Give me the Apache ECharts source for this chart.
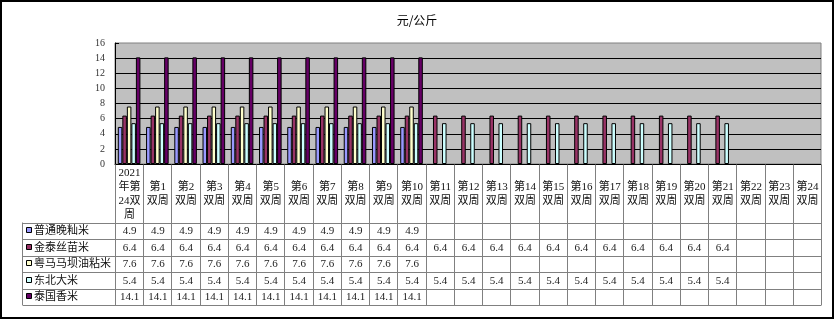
<!DOCTYPE html>
<html>
<head>
<meta charset="utf-8">
<script src="https://cdn.jsdelivr.net/npm/echarts@6/dist/echarts.min.js"></script>
<style>
  html, body { margin: 0; padding: 0; background: #ffffff; }
  #chart { width: 836px; height: 322px; }
</style>
</head>
<body>
<div id="chart"></div>
<script>
// Periods (table header text, wrapped the way the cells show it)
const categories = [
  '2021\n年第\n24双\n周', '第1\n双周', '第2\n双周', '第3\n双周', '第4\n双周', '第5\n双周',
  '第6\n双周', '第7\n双周', '第8\n双周', '第9\n双周', '第10\n双周', '第11\n双周',
  '第12\n双周', '第13\n双周', '第14\n双周', '第15\n双周', '第16\n双周', '第17\n双周',
  '第18\n双周', '第19\n双周', '第20\n双周', '第21\n双周', '第22\n双周', '第23\n双周', '第24\n双周'
];

const seriesNames = ['普通晚籼米', '金泰丝苗米', '粤马马坝油粘米', '东北大米', '泰国香米'];

// Prices, 元/公斤
const putongWanxian = [4.9, 4.9, 4.9, 4.9, 4.9, 4.9, 4.9, 4.9, 4.9, 4.9, 4.9,
  null, null, null, null, null, null, null, null, null, null, null, null, null, null];
const jintaiSimiao = [6.4, 6.4, 6.4, 6.4, 6.4, 6.4, 6.4, 6.4, 6.4, 6.4, 6.4,
  6.4, 6.4, 6.4, 6.4, 6.4, 6.4, 6.4, 6.4, 6.4, 6.4, 6.4, null, null, null];
const yuemaMabaYouzhan = [7.6, 7.6, 7.6, 7.6, 7.6, 7.6, 7.6, 7.6, 7.6, 7.6, 7.6,
  null, null, null, null, null, null, null, null, null, null, null, null, null, null];
const dongbeiDami = [5.4, 5.4, 5.4, 5.4, 5.4, 5.4, 5.4, 5.4, 5.4, 5.4, 5.4,
  5.4, 5.4, 5.4, 5.4, 5.4, 5.4, 5.4, 5.4, 5.4, 5.4, 5.4, null, null, null];
const taiguoXiangmi = [14.1, 14.1, 14.1, 14.1, 14.1, 14.1, 14.1, 14.1, 14.1, 14.1, 14.1,
  null, null, null, null, null, null, null, null, null, null, null, null, null, null];

const yTicks = { min: 0, max: 16, interval: 2 };

const seriesValues = [putongWanxian, jintaiSimiao, yuemaMabaYouzhan, dongbeiDami, taiguoXiangmi];
const seriesColors = ['#9999ff', '#993366', '#ffffcc', '#ccffff', '#660066'];

const GRID = { left: 115, top: 43, right: 15, bottom: 158 };
const HEADER_H = 58;
const ROW_H = 16.5;
const TABLE_LEFT = 22.5;
const LINE_COLOR = '#808080';
const NUM_FONT = '"Liberation Serif", "Noto Sans CJK SC", serif';
const CJK_FONT = '"Liberation Serif", "Noto Sans CJK SC", sans-serif';

const chart = echarts.init(document.getElementById('chart'), null, { renderer: 'canvas' });

chart.setOption({
  animation: false,
  backgroundColor: '#ffffff',
  title: {
    text: '元/公斤',
    left: 412, top: 9, textAlign: 'center',
    textStyle: { fontSize: 12, fontWeight: 'normal', color: '#000', fontFamily: '"Noto Sans CJK SC", sans-serif' }
  },
  grid: {
    left: GRID.left, top: GRID.top, right: GRID.right, bottom: GRID.bottom,
    show: true, backgroundColor: '#c0c0c0', borderColor: '#808080', borderWidth: 1,
    containLabel: false
  },
  xAxis: {
    type: 'category',
    data: categories,
    axisLine: { show: true, lineStyle: { color: '#000', width: 1 } },
    axisTick: { show: false },
    axisLabel: { show: false },
    splitLine: { show: false }
  },
  yAxis: {
    type: 'value',
    min: yTicks.min, max: yTicks.max, interval: yTicks.interval,
    axisLine: { show: true, lineStyle: { color: '#000', width: 1 } },
    axisTick: { show: true, inside: true, length: 4, lineStyle: { color: '#000' } },
    axisLabel: { color: '#333', fontSize: 10, fontFamily: NUM_FONT, margin: 10 },
    splitLine: { show: true, showMaxLine: false, lineStyle: { color: '#000', width: 1 } }
  },
  series: seriesNames.map((name, i) => ({
    name: name,
    type: 'bar',
    data: seriesValues[i],
    barGap: '0%',
    barCategoryGap: '20%',
    itemStyle: { color: seriesColors[i], borderColor: '#000', borderWidth: 1 }
  }))
});

// Data table under the plot: header row of periods, then one row per series
function buildTable() {
  const c0 = chart.convertToPixel({ xAxisIndex: 0 }, 0);
  const c1 = chart.convertToPixel({ xAxisIndex: 0 }, 1);
  const colW = c1 - c0;
  const yBase = Math.round(chart.convertToPixel({ yAxisIndex: 0 }, 0)) + 0.5;
  const firstEdge = c0 - colW / 2;
  const lastEdge = firstEdge + colW * categories.length;
  const headerBottom = yBase + HEADER_H;
  const tableBottom = headerBottom + ROW_H * seriesNames.length;

  const els = [];
  const line = (x1, y1, x2, y2) => els.push({
    type: 'line', silent: true, z: 10,
    shape: { x1, y1, x2, y2 },
    style: { stroke: LINE_COLOR, lineWidth: 1 }
  });

  // vertical cell borders
  for (let k = 0; k <= categories.length; k++) {
    const x = Math.round(firstEdge + k * colW) + 0.5;
    line(x, yBase, x, tableBottom);
  }
  line(TABLE_LEFT, headerBottom, TABLE_LEFT, tableBottom);
  // horizontal cell borders
  for (let r = 0; r <= seriesNames.length; r++) {
    const y = Math.round(headerBottom + r * ROW_H) + 0.5;
    line(TABLE_LEFT, y, Math.round(lastEdge) + 0.5, y);
  }

  // header: period names
  categories.forEach((cat, i) => {
    els.push({
      type: 'text', silent: true, z: 11,
      style: {
        text: cat, x: c0 + i * colW + 0.5, y: yBase + HEADER_H / 2 + 0.5,
        align: 'center', verticalAlign: 'middle',
        font: '11px ' + CJK_FONT, lineHeight: 14, fill: '#111'
      }
    });
  });

  // series rows: legend key, name, values
  seriesNames.forEach((name, r) => {
    const yc = headerBottom + r * ROW_H + ROW_H / 2 + 0.5;
    els.push({
      type: 'rect', silent: true, z: 11,
      shape: { x: 26.5, y: Math.round(yc) - 3.5, width: 5, height: 5 },
      style: { fill: seriesColors[r], stroke: '#000', lineWidth: 1 }
    });
    els.push({
      type: 'text', silent: true, z: 11,
      style: {
        text: name, x: 34, y: yc, align: 'left', verticalAlign: 'middle',
        font: '11px ' + CJK_FONT, fill: '#111'
      }
    });
    seriesValues[r].forEach((v, i) => {
      if (v === null) return;
      els.push({
        type: 'text', silent: true, z: 11,
        style: {
          text: v.toFixed(1), x: c0 + i * colW + 0.5, y: yc,
          align: 'center', verticalAlign: 'middle',
          font: '11px ' + NUM_FONT, fill: '#222'
        }
      });
    });
  });

  // outer frame
  els.push({
    type: 'rect', silent: true, z: 12,
    shape: { x: 1, y: 1, width: 832, height: 317 },
    style: { fill: 'none', stroke: '#000', lineWidth: 2 }
  });

  chart.setOption({ graphic: { elements: els } });
}

buildTable();
</script>
</body>
</html>
